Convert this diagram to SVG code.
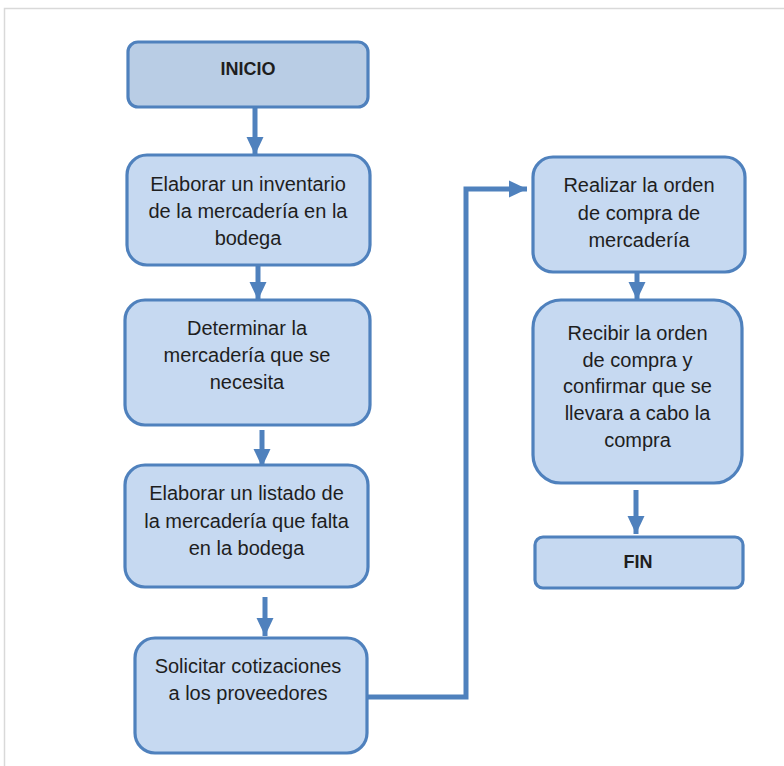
<svg xmlns="http://www.w3.org/2000/svg" width="784" height="766" viewBox="0 0 784 766">
<defs>
<style>
.frame{fill:none;stroke:#d9d9d9;stroke-width:1.5}
.box{fill:#c6d9f1;stroke:#4f81bd;stroke-width:3.2}
.term{fill:#b9cde5;stroke:#4f81bd;stroke-width:3.2}
.lbl{font-family:"Liberation Sans",Arial,sans-serif;font-size:20px;fill:#1e1e1e;text-anchor:middle}
.bold{font-weight:bold;font-size:18px}
.conn{fill:none;stroke:#4f81bd;stroke-width:5}
</style>
<marker id="ah" markerUnits="userSpaceOnUse" markerWidth="20" markerHeight="20" viewBox="0 0 20 20" refX="18" refY="10" orient="auto">
<path d="M0,1.5 L18,10 L0,18.5 Z" fill="#4f81bd"/>
</marker>
</defs>
<rect width="784" height="766" fill="#ffffff"/>
<path class="frame" d="M784,8.5 H4.5 V766"/>
<g id="connectors">
<line class="conn" x1="255" y1="108" x2="255" y2="155" marker-end="url(#ah)"/>
<line class="conn" x1="258" y1="266" x2="258" y2="300" marker-end="url(#ah)"/>
<line class="conn" x1="262" y1="430" x2="262" y2="467" marker-end="url(#ah)"/>
<line class="conn" x1="265" y1="597" x2="265" y2="636" marker-end="url(#ah)"/>
<line class="conn" x1="637" y1="273" x2="637" y2="300" marker-end="url(#ah)"/>
<line class="conn" x1="636" y1="490" x2="636" y2="534" marker-end="url(#ah)"/>
<path class="conn" d="M367,697 H466 V189 H527" marker-end="url(#ah)"/>
</g>
<g id="inicio">
<rect class="term" x="128" y="42" width="240" height="65" rx="10"/>
<text class="lbl bold" x="248" y="75">INICIO</text>
</g>
<g id="inventario">
<rect class="box" x="127" y="155" width="243" height="110" rx="20"/>
<text class="lbl" x="248" y="191">Elaborar un inventario</text>
<text class="lbl" x="248" y="218">de la mercadería en la</text>
<text class="lbl" x="248" y="245">bodega</text>
</g>
<g id="determinar">
<rect class="box" x="125" y="300" width="245" height="125" rx="20"/>
<text class="lbl" x="247" y="335">Determinar la</text>
<text class="lbl" x="247" y="362">mercadería que se</text>
<text class="lbl" x="247" y="389">necesita</text>
</g>
<g id="listado">
<rect class="box" x="125" y="465" width="243" height="122" rx="20"/>
<text class="lbl" x="246.5" y="500">Elaborar un listado de</text>
<text class="lbl" x="246.5" y="528">la mercadería que falta</text>
<text class="lbl" x="246.5" y="555">en la bodega</text>
</g>
<g id="cotizaciones">
<rect class="box" x="135" y="638" width="232" height="115" rx="20"/>
<text class="lbl" x="248" y="673">Solicitar cotizaciones</text>
<text class="lbl" x="248" y="700">a los proveedores</text>
</g>
<g id="orden">
<rect class="box" x="533" y="157" width="212" height="115" rx="20"/>
<text class="lbl" x="639" y="192">Realizar la orden</text>
<text class="lbl" x="639" y="220">de compra de</text>
<text class="lbl" x="639" y="247">mercadería</text>
</g>
<g id="recibir">
<rect class="box" x="533" y="300" width="209" height="183" rx="28"/>
<text class="lbl" x="637.5" y="340">Recibir la orden</text>
<text class="lbl" x="637.5" y="367">de compra y</text>
<text class="lbl" x="637.5" y="393">confirmar que se</text>
<text class="lbl" x="637.5" y="420">llevara a cabo la</text>
<text class="lbl" x="637.5" y="447">compra</text>
</g>
<g id="fin">
<rect class="box" x="535" y="537" width="208" height="51" rx="8"/>
<text class="lbl bold" x="638" y="568">FIN</text>
</g>
</svg>
